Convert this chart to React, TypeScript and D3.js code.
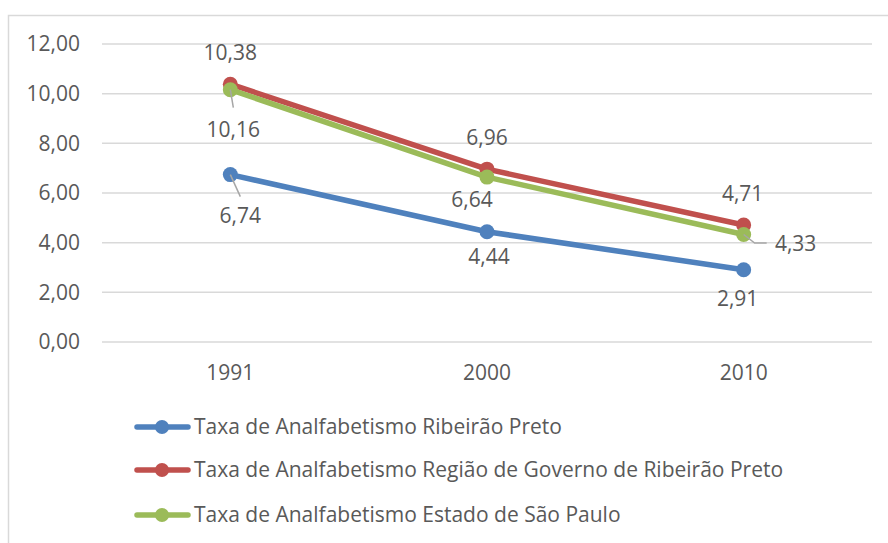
import React from "react";
import * as d3 from "d3";

const categories = ["1991", "2000", "2010"];
const seriesNames = [
  "Taxa de Analfabetismo Ribeirão Preto",
  "Taxa de Analfabetismo Região de Governo de Ribeirão Preto",
  "Taxa de Analfabetismo Estado de São Paulo",
];
const ribeiraoPreto = [6.74, 4.44, 2.91];
const regiaoGoverno = [10.38, 6.96, 4.71];
const estadoSP = [10.16, 6.64, 4.33];
const yTicks = [0, 2, 4, 6, 8, 10, 12];

const colors = ["#4F81BD", "#C0504D", "#9BBB59"];
// label layout offsets (px) per series per point
const labelOffsets = [
  [[10, 41], [2, 25], [-6, 29]],
  [[0, -32], [0, -32], [-1, -31]],
  [[3, 40], [-15, 23], [52, 9]],
];

const W = 888;
const H = 543;
const fmt = (v: number) => v.toFixed(2).replace(".", ",");

export default function App() {
  const plotLeft = 102;
  const plotRight = 872;
  const x = d3.scaleBand().domain(categories).range([plotLeft, plotRight]);
  const y = d3.scaleLinear().domain([0, 12]).range([342, 44]);
  const cx = (c: string) => (x(c) as number) + x.bandwidth() / 2;
  const allSeries = [ribeiraoPreto, regiaoGoverno, estadoSP];
  const line = d3
    .line<number>()
    .x((_, i) => cx(categories[i]))
    .y((d) => y(d));
  const font = "'Open Sans', sans-serif";
  const textColor = "#595959";
  const fs = 21;

  return (
    <svg
      width={W}
      height={H}
      style={{ position: "absolute", left: 0, top: 0, background: "#fff" }}
      fontFamily={font}
    >
      <rect x={8.5} y={15.5} width={1000} height={1000} fill="#fff" stroke="#D9D9D9" strokeWidth={1.5} />
      {yTicks.map((t) => (
        <g key={t}>
          <line x1={plotLeft} x2={plotRight} y1={y(t)} y2={y(t)} stroke="#D9D9D9" strokeWidth={1.5} />
          <text x={80} y={y(t)} dy="0.35em" textAnchor="end" fontSize={fs} fill={textColor}>
            {fmt(t)}
          </text>
        </g>
      ))}
      {categories.map((c) => (
        <text key={c} x={cx(c)} y={373} dy="0.35em" textAnchor="middle" fontSize={fs} fill={textColor}>
          {c}
        </text>
      ))}
      {allSeries.map((s, si) => (
        <g key={si}>
          <path d={line(s) as string} fill="none" stroke={colors[si]} strokeWidth={5.5} strokeLinejoin="round" />
          {s.map((v, i) => (
            <circle key={i} cx={cx(categories[i])} cy={y(v)} r={7.5} fill={colors[si]} />
          ))}
        </g>
      ))}
      {/* leader lines */}
      <path
        d={`M${cx("1991")},${y(estadoSP[0])} L${cx("1991") + 3},${y(estadoSP[0]) + 18}`}
        stroke="#A6A6A6"
        strokeWidth={1.5}
        fill="none"
      />
      <path
        d={`M${cx("1991")},${y(ribeiraoPreto[0])} L${cx("1991") + 10},${y(ribeiraoPreto[0]) + 22}`}
        stroke="#A6A6A6"
        strokeWidth={1.5}
        fill="none"
      />
      <path
        d={`M${cx("2010")},${y(estadoSP[2])} L${cx("2010") + 11},${y(estadoSP[2]) + 8.5} L${cx("2010") + 23},${y(estadoSP[2]) + 8.5}`}
        stroke="#A6A6A6"
        strokeWidth={1.5}
        fill="none"
      />
      {allSeries.map((s, si) =>
        s.map((v, i) => (
          <text
            key={`${si}-${i}`}
            x={cx(categories[i]) + labelOffsets[si][i][0]}
            y={y(v) + labelOffsets[si][i][1]}
            dy="0.35em"
            textAnchor="middle"
            fontSize={fs}
            fill={textColor}
          >
            {fmt(v)}
          </text>
        ))
      )}
      {seriesNames.map((n, i) => {
        const ly = [427, 470, 515][i];
        return (
          <g key={n}>
            <line x1={137} x2={188} y1={ly} y2={ly} stroke={colors[i]} strokeWidth={5.5} strokeLinecap="round" />
            <circle cx={162} cy={ly} r={7} fill={colors[i]} />
            <text x={194} y={ly} dy="0.35em" fontSize={fs} fill={textColor}>
              {n}
            </text>
          </g>
        );
      })}
    </svg>
  );
}
